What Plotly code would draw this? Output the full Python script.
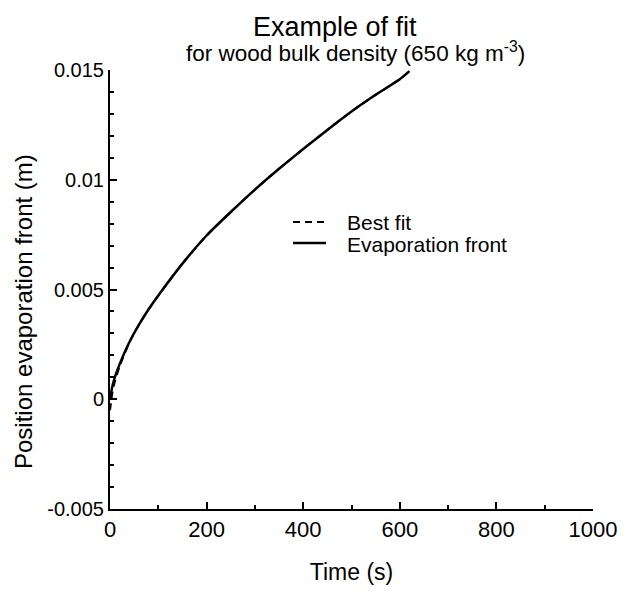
import plotly.graph_objects as go

# Position of the evaporation front versus time (wood, 650 kg m^-3)
time_s = [0, 5, 10, 20, 40, 60, 80, 100, 150, 200, 250, 300, 350, 400,
          450, 500, 550, 600, 620]
front_m = [0.0, 0.0006, 0.001, 0.0016, 0.0026, 0.0034, 0.0041, 0.00473,
           0.00618, 0.00746, 0.00853, 0.00955, 0.0105, 0.0114, 0.01227,
           0.01311, 0.01387, 0.01458, 0.01495]

# Fitted curve (nearly coincides with the computed front)
fit_time_s = [0, 5, 10, 20, 40, 60, 80, 100, 150, 200, 250, 300, 350, 400,
              450, 500, 550, 600, 620]
fit_m = [-0.0005, 0.0003, 0.0008, 0.0015, 0.00258, 0.00339, 0.0041, 0.00472,
         0.00618, 0.00746, 0.00853, 0.00955, 0.0105, 0.0114, 0.01227,
         0.01311, 0.01387, 0.01458, 0.01495]

x_ticks = [0, 200, 400, 600, 800, 1000]
y_ticks = [-0.005, 0, 0.005, 0.01, 0.015]
y_tick_text = ["-0.005", "0", "0.005", "0.01", "0.015"]

FONT = "Liberation Sans, Arial, Helvetica, sans-serif"
ML, MR, MT, MB = 110, 44, 70, 90
W, H = 637, 599
DASH = "7px,5px"

fig = go.Figure()
fig.add_trace(go.Scatter(x=fit_time_s, y=fit_m, mode="lines", name="Best fit",
                         line=dict(color="black", width=2, dash=DASH, shape="spline", smoothing=0.5)))
fig.add_trace(go.Scatter(x=time_s, y=front_m, mode="lines", name="Evaporation front",
                         line=dict(color="black", width=2.5, shape="spline", smoothing=0.5)))

axis_common = dict(showgrid=False, zeroline=False, showline=True, linecolor="black",
                   linewidth=2, ticks="inside", tickcolor="black", ticklen=7, tickwidth=1.5,
                   mirror=False)

fig.update_xaxes(range=[0, 1000], tickvals=x_ticks, **axis_common,
                 tickfont=dict(family=FONT, size=22, color="black"),
                 minor=dict(dtick=100, ticks="inside", ticklen=4, tickcolor="black", tickwidth=1.5),
                 title=dict(text="Time (s)", font=dict(family=FONT, size=23, color="black"), standoff=22))
fig.update_yaxes(range=[-0.005, 0.015], tickvals=y_ticks, ticktext=y_tick_text, **axis_common,
                 tickfont=dict(family=FONT, size=20, color="black"),
                 minor=dict(dtick=0.001, ticks="inside", ticklen=4, tickcolor="black", tickwidth=1.5))


def px_to_paper(px, py):
    return (px - ML) / (W - ML - MR), (H - MB - py) / (H - MT - MB)


def label(text, px, py, size, angle=0, xanchor="center"):
    x, y = px_to_paper(px, py)
    return dict(text=text, x=x, y=y, xref="paper", yref="paper", showarrow=False,
                xanchor=xanchor, yanchor="middle", textangle=angle,
                font=dict(family=FONT, size=size, color="black"))


annots = [
    label("Example of fit", 335, 27, 27),
    label("for wood bulk density (650 kg m<sup>-3</sup>)", 355, 52, 22.5),
    label("Position evaporation front (m)", 23, 312, 24, angle=-90),
    label("Best fit", 345, 222, 21, xanchor="left"),
    label("Evaporation front", 345, 244, 21, xanchor="left"),
]

# Legend keys drawn as short line segments next to the labels
shapes = []
for py, dash, width in [(222, DASH, 2), (243, "solid", 2.5)]:
    x0, y0 = px_to_paper(293, py)
    x1, _ = px_to_paper(326, py)
    shapes.append(dict(type="line", xref="paper", yref="paper", x0=x0, x1=x1, y0=y0, y1=y0,
                       line=dict(color="black", width=width, dash=dash)))

fig.update_layout(
    width=W, height=H,
    margin=dict(l=ML, r=MR, t=MT, b=MB),
    paper_bgcolor="white", plot_bgcolor="white",
    showlegend=False,
    annotations=annots,
    shapes=shapes,
)

fig.write_html("out.html")
